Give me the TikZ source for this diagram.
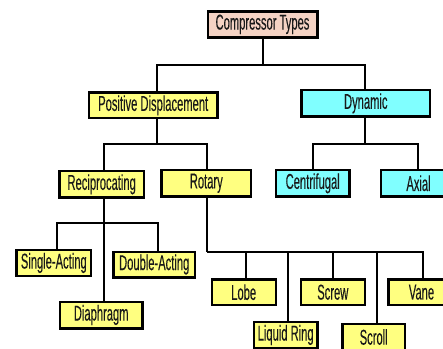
\documentclass[tikz,border=0pt]{standalone}
\usepackage{fontspec}
\newfontfamily\narrowfont[FakeStretch=0.52,FakeBold=0.15]{Liberation Sans}
\definecolor{boxpink}{HTML}{F5D3C4}
\definecolor{boxyellow}{HTML}{FFFF80}
\definecolor{boxcyan}{HTML}{80FFFF}
\tikzset{
  box/.style={draw=black, line width=2.4pt, inner sep=0pt, minimum height=26pt,
    font=\narrowfont\fontsize{21.5}{22}\selectfont, text=black!90},
  pinkbox/.style={box, fill=boxpink},
  yelbox/.style={box, fill=boxyellow},
  cyanbox/.style={box, fill=boxcyan},
  conn/.style={draw=black, line width=2pt}
}
\begin{document}
\begin{tikzpicture}[x=1pt,y=-1pt]
\useasboundingbox (0,0) rectangle (443,348);
\clip (0,0) rectangle (443,348);
\fill[white] (0,0) rectangle (443,348);
% junction points
\coordinate (j0) at (263,65);
\coordinate (j1) at (157,144);
\coordinate (j2) at (365,144);
\coordinate (j3) at (104,223);
\coordinate (j4) at (207,252);
% nodes
\node[pinkbox, minimum width=109.6pt] (ct) at (262.5,24.3) {Compressor Types};
\node[yelbox, minimum width=128.3pt, minimum height=25.3pt] (pd) at (153.2,105.3) {Positive Displacement};
\node[cyanbox, minimum width=128.3pt, minimum height=26.7pt] (dyn) at (365.8,103.3) {Dynamic};
\node[yelbox, minimum width=84.7pt, minimum height=26.7pt] (rec) at (101.7,184.3) {Reciprocating};
\node[yelbox, minimum width=89.3pt, minimum height=26.7pt] (rot) at (206.3,183.3) {Rotary};
\node[cyanbox, minimum width=73.3pt, minimum height=26.7pt] (cen) at (312.7,183.3) {Centrifugal};
\node[cyanbox, minimum width=75pt, minimum height=26.7pt] (ax) at (418.5,183.3) {Axial};
\node[yelbox, minimum width=74.3pt] (sa) at (53.8,263) {Single-Acting};
\node[yelbox, minimum width=81.7pt, minimum height=25.6pt] (da) at (154.2,264.5) {Double-Acting};
\node[yelbox, minimum width=82.3pt, minimum height=26.6pt] (dia) at (101.2,315) {Diaphragm};
\node[yelbox, minimum width=64pt, minimum height=25.7pt] (lobe) at (243.7,292.2) {Lobe};
\node[yelbox, minimum width=64pt, minimum height=25.7pt] (screw) at (332.8,292.2) {Screw};
\node[yelbox, minimum width=66pt, minimum height=25.7pt] (vane) at (421.5,292.2) {Vane};
\node[yelbox, minimum width=63.3pt, minimum height=26pt] (lr) at (285.7,335) {Liquid Ring};
\node[yelbox, minimum width=62.7pt, minimum height=26pt] (scr) at (373.7,337) {Scroll};
% connectors drawn from node to node
\draw[conn] (ct.south -| j0) -- (j0);
\draw[conn] (j0) -| (pd.north -| j1);
\draw[conn] (j0) -| (dyn.north -| j2);
\draw[conn] (pd.south -| j1) -- (j1);
\draw[conn] (j1) -| ([xshift=2.3pt]rec.north);
\draw[conn] (j1) -| ([xshift=0.7pt]rot.north);
\draw[conn] (dyn.south -| j2) -- (j2);
\draw[conn] (j2) -| ([xshift=0.3pt]cen.north);
\draw[conn] (j2) -| ([xshift=-0.5pt]ax.north);
\draw[conn] (rec.south -| j3) -- (j3);
\draw[conn] (j3) -| ([xshift=3.2pt]sa.north);
\draw[conn] (j3) -| ([xshift=3.8pt]da.north);
\draw[conn] (j3) -- (dia.north -| j3);
\draw[conn] (rot.south -| j4) -- (j4);
\draw[conn] (j4) -| ([xshift=2.3pt]lobe.north);
\draw[conn] (j4) -| ([xshift=2.3pt]lr.north);
\draw[conn] (j4) -| ([xshift=0.2pt]screw.north);
\draw[conn] (j4) -| ([xshift=3.3pt]scr.north);
\draw[conn] (j4) -| ([xshift=1.5pt]vane.north);
\end{tikzpicture}
\end{document}
